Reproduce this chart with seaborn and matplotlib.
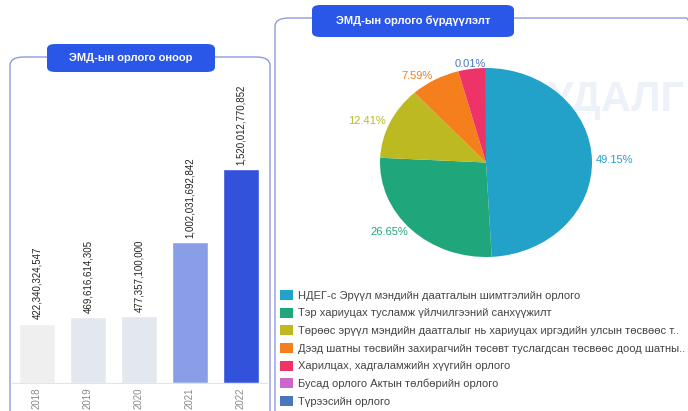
import matplotlib
matplotlib.use("Agg")
import matplotlib.pyplot as plt
import seaborn as sns
import pandas as pd
from matplotlib.patches import FancyBboxPatch

# data
years = ["2018", "2019", "2020", "2021", "2022"]
income = [422340324547, 469616614305, 477357100000, 1002031692842, 1520012770852]
bar_colors = ["#efefef", "#e3e7ee", "#e3e7ee", "#8a9ee8", "#3252dc"]

sources = [
    "НДЕГ-с Эрүүл мэндийн даатгалын шимтгэлийн орлого",
    "Тэр хариуцах тусламж үйлчилгээний санхүүжилт",
    "Төрөөс эрүүл мэндийн даатгалыг нь хариуцах иргэдийн улсын төсвөөс т..",
    "Дээд шатны төсвийн захирагчийн төсөвт туслагдсан төсвөөс доод шатны..",
    "Харилцах, хадгаламжийн хүүгийн орлого",
    "Бусад орлого Актын төлбөрийн орлого",
    "Түрээсийн орлого",
]
shares = [49.15, 26.65, 12.41, 7.59, 4.19, 0.003, 0.01]
show_label = [True, True, True, True, False, False, True]
pie_colors = ["#22a1c9", "#1fa77b", "#bcba20", "#f57f1c", "#ee3369", "#cc66cc", "#4a77bb"]

sns.set_theme(style="white")
plt.rcParams["font.family"] = ["Liberation Sans", "DejaVu Sans"]

W, H = 688, 411
fig = plt.figure(figsize=(W / 100, H / 100), dpi=100)
fig.patch.set_facecolor("white")


def fx(x):
    return x / W


def fy(y):
    return 1 - y / H


# faint watermark behind the pie
fig.text(fx(684), fy(100), "СУДАЛГ", fontsize=30, color="#edf2f9",
         fontweight="bold", va="center", ha="right", zorder=-5)

# panels
for (x0, y0, x1, y1) in [(10, 57, 270, 420), (275, 18, 700, 420)]:
    fig.patches.append(FancyBboxPatch(
        (fx(x0), fy(y1)), fx(x1 - x0), (y1 - y0) / H,
        boxstyle="round,pad=0,rounding_size=0.02", transform=fig.transFigure,
        facecolor="none", edgecolor="#8f9be0", linewidth=1.0, zorder=1))

# title pills
for (x0, y0, x1, y1, title) in [(47, 44, 215, 72, "ЭМД-ын орлого оноор"),
                                (312, 5, 514, 37, "ЭМД-ын орлого бүрдүүлэлт")]:
    fig.patches.append(FancyBboxPatch(
        (fx(x0), fy(y1)), fx(x1 - x0), (y1 - y0) / H,
        boxstyle="round,pad=0,rounding_size=0.012", transform=fig.transFigure,
        facecolor="#2a57e8", edgecolor="none", zorder=2))
    fig.text(fx((x0 + x1) / 2), fy((y0 + y1) / 2), title, color="white",
             fontsize=8, fontweight="bold", ha="center", va="center", zorder=3)

# bar chart
df = pd.DataFrame({"year": years, "income": income})
ax = fig.add_axes([fx(11.5), fy(383), fx(255), 293 / H])
ax.set_facecolor("none")
sns.barplot(data=df, x="year", y="income", hue="year", palette=bar_colors,
            width=0.72, saturation=1, legend=False, ax=ax)
ax.set_ylim(0, 2.08e12)
for c in ax.containers:
    ax.bar_label(c, labels=[f"{v:,.0f}" for v in c.datavalues], rotation=90,
                 padding=3, fontsize=7, color="#222222")
ax.set_xlabel("")
ax.set_ylabel("")
ax.set_yticks([])
ax.tick_params(axis="x", labelrotation=90, labelsize=7, labelcolor="#8a8a8a",
               length=0, pad=3)
for s in ["top", "right", "left"]:
    ax.spines[s].set_visible(False)
ax.spines["bottom"].set_color("#e4e4e4")
ax.spines["bottom"].set_linewidth(0.8)

# pie chart
rx, ry, cx, cy = 106, 94.5, 486, 162.5
pax = fig.add_axes([fx(cx - 1.25 * rx), fy(cy + 1.25 * ry),
                    fx(2.5 * rx), 2.5 * ry / H])
pax.set_zorder(2)
labels = [f"{v:.2f}%" if s else "" for v, s in zip(shares, show_label)]
wedges, texts = pax.pie(shares, colors=pie_colors, startangle=90,
                        counterclock=False, labels=labels, labeldistance=1.04,
                        wedgeprops=dict(linewidth=0),
                        textprops=dict(fontsize=8))
for t, col in zip(texts, pie_colors):
    t.set_color(col)
pax.set_aspect("auto")
pax.set_xlim(-1.25, 1.25)
pax.set_ylim(-1.25, 1.25)

fig.legend(wedges, sources, loc="upper left",
           bbox_to_anchor=(fx(280), fy(290)), frameon=False, fontsize=8,
           handlelength=1.2, handleheight=1.0, handletextpad=0.45,
           labelspacing=0.62, borderaxespad=0, borderpad=0,
           labelcolor="#444444")

fig.savefig("out.png", dpi=100, facecolor="white")
